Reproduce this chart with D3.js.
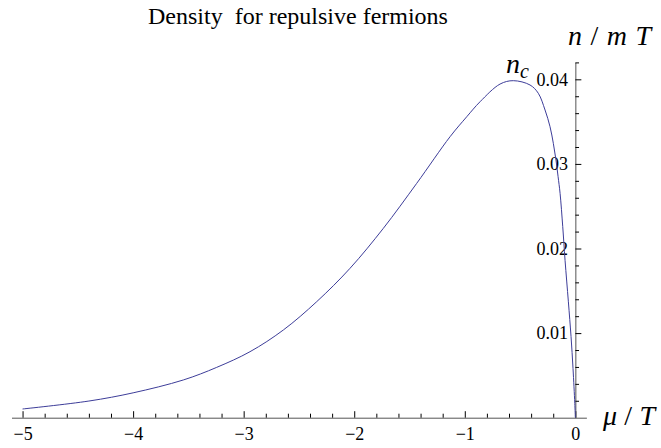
<!DOCTYPE html>
<html>
<head>
<meta charset="utf-8">
<script src="https://cdn.jsdelivr.net/npm/d3@7"></script>
<style>
  body { margin: 0; background: #fff; }
  svg { display: block; }
</style>
</head>
<body>
<svg id="chart" width="661" height="448"></svg>
<script>
// values
const muValues = [-5, -4.4, -4, -3.546, -3.244, -2.943, -2.641, -2.339, -2.038, -1.737, -1.435,
  -1.133, -0.982, -0.862, -0.681, -0.561, -0.41, -0.335, -0.274, -0.229, -0.199, -0.175, -0.156, -0.138,
  -0.114, -0.093, -0.063, -0.039, -0.021, -0.005, 0];
const densityValues = [0.00103, 0.00197, 0.00294, 0.00446, 0.00595, 0.0078, 0.01037, 0.01372,
  0.01766, 0.02238, 0.0277, 0.03322, 0.03558, 0.03735, 0.03944, 0.03984, 0.03933, 0.03835, 0.03637,
  0.0344, 0.03243, 0.03046, 0.02849, 0.02652, 0.02258, 0.0186, 0.0137, 0.0096, 0.0058, 0.0017, 0];

const xMajorTicks = [-5, -4, -3, -2, -1, 0];
const xTickLabels = ['\u22125', '\u22124', '\u22123', '\u22122', '\u22121', '0'];
const yMajorTicks = [0.01, 0.02, 0.03, 0.04];
const yTickLabels = ['0.01', '0.02', '0.03', '0.04'];

const titleText = 'Density\u00a0 for repulsive fermions';

const serif = 'Liberation Serif';

const svg = d3.select('#chart');

const x = d3.scaleLinear().domain([-5.1, 0.1]).range([11.5, 586.4]);
const y = d3.scaleLinear().domain([0, 0.042]).range([417.7, 62.4]);

const x0 = x(0);
const yBase = y(0);

// minor ticks
const xMinor = d3.range(-25, 1).map(i => i / 5).filter(v => !xMajorTicks.includes(v));
const yMinor = d3.range(1, 22).map(i => i * 0.002).filter(v => !yMajorTicks.some(t => Math.abs(t - v) < 1e-9));

// x axis
const xAxisG = svg.append('g')
  .attr('transform', `translate(0,${yBase})`)
  .call(d3.axisBottom(x)
    .tickValues(xMajorTicks)
    .tickFormat((d, i) => xTickLabels[i])
    .tickSizeInner(-6.5)
    .tickSizeOuter(0)
    .tickPadding(9.5));

svg.append('g')
  .attr('transform', `translate(0,${yBase})`)
  .call(d3.axisBottom(x).tickValues(xMinor).tickFormat('').tickSizeInner(-4).tickSizeOuter(0))
  .call(g => g.select('.domain').remove());

// y axis
const yAxisG = svg.append('g')
  .attr('transform', `translate(${x0},0)`)
  .call(d3.axisLeft(y)
    .tickValues(yMajorTicks)
    .tickFormat((d, i) => yTickLabels[i])
    .tickSizeInner(-6)
    .tickSizeOuter(0)
    .tickPadding(7.3));

svg.append('g')
  .attr('transform', `translate(${x0},0)`)
  .call(d3.axisLeft(y).tickValues(yMinor).tickFormat('').tickSizeInner(-3.7).tickSizeOuter(0))
  .call(g => g.select('.domain').remove());

[xAxisG, yAxisG].forEach(g => g.attr('font-family', serif).attr('font-size', 18));
svg.selectAll('.domain').attr('stroke', '#555');
svg.selectAll('.tick line').attr('stroke', '#000');
svg.selectAll('.tick text').attr('fill', '#000');

// the density curve
const points = muValues.map((m, i) => [m, densityValues[i]]);
svg.append('path')
  .datum(points)
  .attr('fill', 'none')
  .attr('stroke', '#3d3d99')
  .attr('stroke-width', 1)
  .attr('d', d3.line()
    .x(d => x(d[0]))
    .y(d => y(d[1]))
    .curve(d3.curveCatmullRom.alpha(0.5)));

// title
svg.append('text')
  .attr('font-family', serif)
  .attr('font-size', 24)
  .attr('x', 298)
  .attr('y', 24)
  .attr('text-anchor', 'middle')
  .text(titleText);

// axis labels
const yLabel = svg.append('text')
  .attr('font-family', serif)
  .attr('font-size', 28)
  .attr('x', 568)
  .attr('y', 45)
  .attr('textLength', 83)
  .attr('lengthAdjust', 'spacing');
yLabel.append('tspan').attr('font-style', 'italic').text('n');
yLabel.append('tspan').text('/');
yLabel.append('tspan').attr('font-style', 'italic').text('mT');

const xLabel = svg.append('text')
  .attr('font-family', serif)
  .attr('font-size', 28)
  .attr('x', 603)
  .attr('y', 425)
  .attr('textLength', 52)
  .attr('lengthAdjust', 'spacing');
xLabel.append('tspan').attr('font-style', 'italic').text('\u03bc');
xLabel.append('tspan').text('/');
xLabel.append('tspan').attr('font-style', 'italic').text('T');

// n_c marker near the maximum
const ncLabel = svg.append('text')
  .attr('font-family', serif)
  .attr('font-size', 28)
  .attr('font-style', 'italic')
  .attr('x', 506)
  .attr('y', 73);
ncLabel.append('tspan').text('n');
ncLabel.append('tspan').attr('font-size', 20).attr('dy', 5).text('c');
</script>
</body>
</html>
